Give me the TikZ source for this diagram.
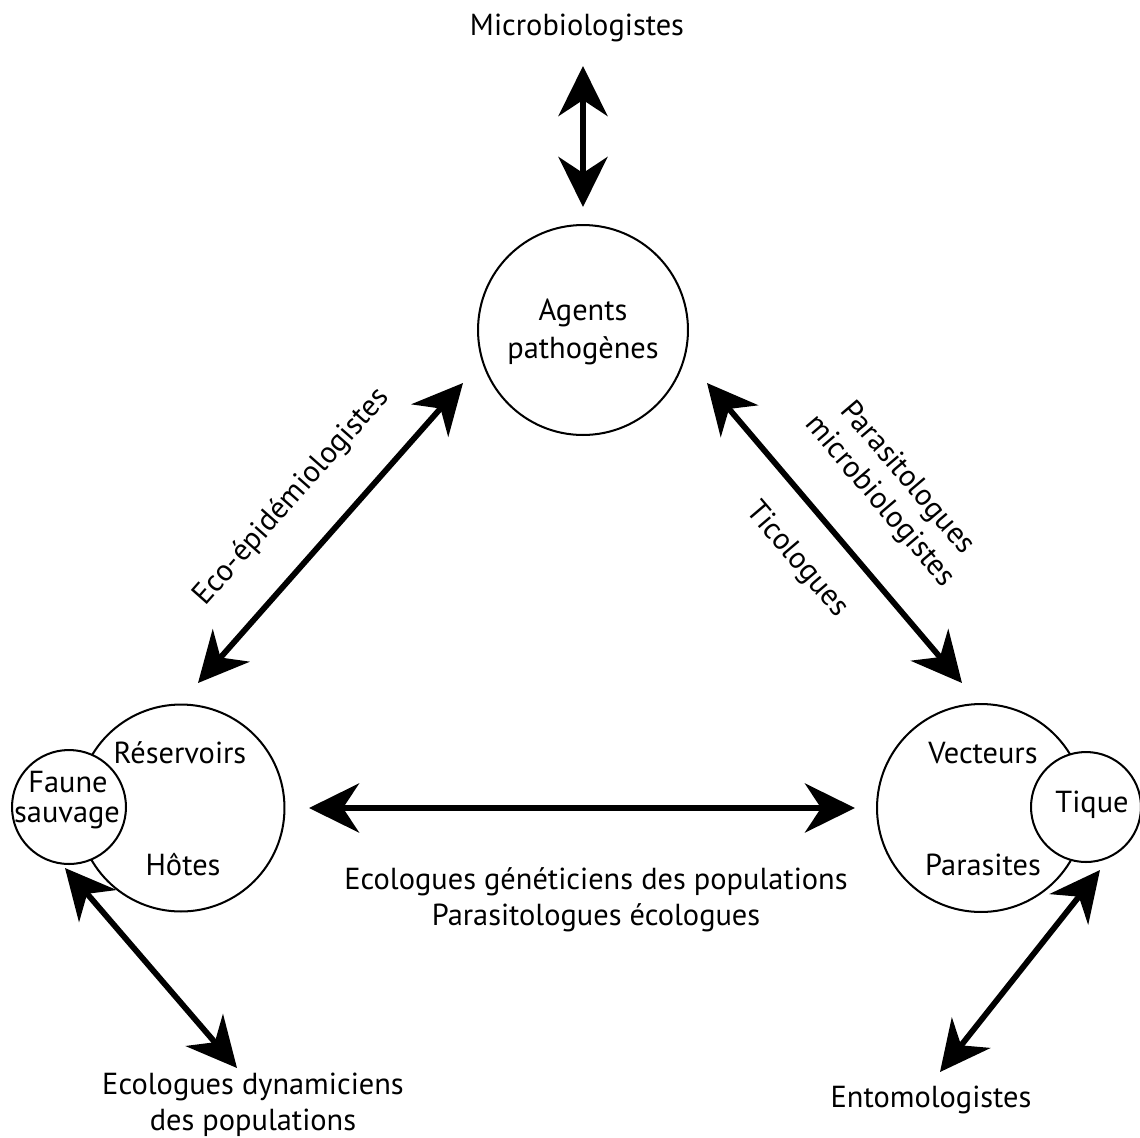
\documentclass[tikz,border=0pt]{standalone}
\usepackage{fontspec}
\setmainfont{PT Sans}
\usetikzlibrary{arrows.meta}
\begin{document}
\begin{tikzpicture}[x=0.02cm,y=-0.02cm,
  circ/.style={circle,draw,line width=1.15pt,fill=white,inner sep=0pt},
  lbl/.style={font=\fontsize{17.3}{20.4}\selectfont, align=center, inner sep=0pt},
  dbl/.style={line width=3.3pt, {Stealth[length=1cm,width=0.98cm,inset=0.32cm]}-{Stealth[length=1cm,width=0.98cm,inset=0.32cm]}}
]
\path[use as bounding box] (0,0) rectangle (1140,1137);

% circles
\node[circ, minimum size=4.2cm] (agents) at (583,330) {};
\node[circ, minimum size=4.14cm] (reserv) at (181,808) {};
\node[circ, minimum size=2.28cm] (faune) at (69,807) {};
\node[circ, minimum size=4.16cm] (vect) at (981,808) {};
\node[circ, minimum size=2.2cm] (tique) at (1086,807) {};

% texts inside circles
\node[lbl] (tA) at (583,313) {Agents};
\node[lbl] (tP) at (583,351) {pathogènes};
\node[lbl] (tR) at (180,753) {Réservoirs};
\node[lbl] (tH) at (183,865) {Hôtes};
\node[lbl] (tF) at (68,782) {Faune};
\node[lbl] (tS) at (67,818) {sauvage};
\node[lbl] (tV) at (983,753) {Vecteurs};
\node[lbl] (tPa) at (983,865) {Parasites};
\node[lbl] (tT) at (1092,805) {Tique};

% outer labels
\node[lbl] (micro) at (577,28) {Microbiologistes};
\node[lbl] (gen) at (596,900) {Ecologues généticiens des populations\\Parasitologues écologues};
\node[lbl] (dyn) at (253,1105) {Ecologues dynamiciens\\des populations};
\node[lbl] (ento) at (931,1100) {Entomologistes};
\node[lbl, rotate=48.5] (eco) at (292,497) {Eco-épidémiologistes};
\node[lbl, rotate=-49.6] (para) at (893,490) {Parasitologues\\microbiologistes};
\node[lbl, rotate=-49.6] (tico) at (797,560) {Ticologues};

% arrow end points
\coordinate (a1) at (583,66);
\coordinate (a2) at (583,207);
\coordinate (b1) at (463,383);
\coordinate (b2) at (198,683);
\coordinate (c1) at (707,383);
\coordinate (c2) at (962,683);
\coordinate (d1) at (309,808);
\coordinate (d2) at (855,808);
\coordinate (e1) at (65,868);
\coordinate (e2) at (237,1068);
\coordinate (f1) at (1100,870);
\coordinate (f2) at (940,1072);

\draw[dbl] (a1) -- (a2);
\draw[dbl] (b1) -- (b2);
\draw[dbl] (c1) -- (c2);
\draw[dbl] (d1) -- (d2);
\draw[dbl] (e1) -- (e2);
\draw[dbl] (f1) -- (f2);
\end{tikzpicture}
\end{document}
